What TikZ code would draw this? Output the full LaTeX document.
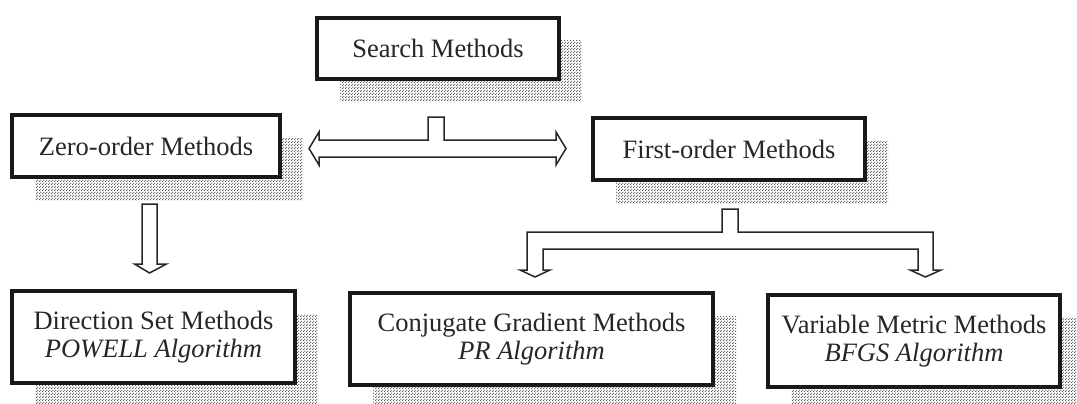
\documentclass[tikz,border=0pt]{standalone}
\usepackage{fontspec}
\setmainfont{Liberation Serif}
\usetikzlibrary{shadows,calc,patterns}
% fine checkerboard dot screen for the box shadows
\pgfdeclarepatternformonly{halftone}{\pgfqpoint{0pt}{0pt}}{\pgfqpoint{3pt}{3pt}}{\pgfqpoint{3pt}{3pt}}{%
  \pgfpathcircle{\pgfqpoint{0.75pt}{0.75pt}}{0.85pt}%
  \pgfpathcircle{\pgfqpoint{2.25pt}{2.25pt}}{0.85pt}%
  \pgfusepath{fill}}
\begin{document}
\begin{tikzpicture}[x=1pt,y=-1pt,
  box/.style={draw=black!90, line width=3.2pt, fill=white, inner sep=0pt, outer sep=0pt,
    align=center, text=black!85,
    font=\fontsize{26.5}{27.5}\selectfont,
    drop shadow={shadow xshift=23pt, shadow yshift=-23pt,
      pattern=halftone, pattern color=black!65, opacity=1}},
  blockarrow/.style={draw=black!85, line width=1.5pt, fill=white, line join=miter}
]
\useasboundingbox (0,0) rectangle (1077,404);

% method boxes
\node[box, minimum width=242pt, minimum height=61pt] (search) at (438,48.5) {Search Methods};
\node[box, minimum width=268pt, minimum height=62pt] (zero) at (146,146) {Zero-order Methods};
\node[box, minimum width=272pt, minimum height=62pt] (first) at (729,149) {First-order Methods};
\node[box, minimum width=283pt, minimum height=92pt] (dir) at (153.5,337)
  {Direction Set Methods\\\textit{POWELL Algorithm}};
\node[box, minimum width=363pt, minimum height=92pt] (conj) at (531.5,339)
  {Conjugate Gradient Methods\\\textit{PR Algorithm}};
\node[box, minimum width=292pt, minimum height=92pt] (var) at (914,341)
  {Variable Metric Methods\\\textit{BFGS Algorithm}};

% T-shaped double arrow from Search Methods to both orders
\coordinate (st) at ($(search.south)+(-2,38)$);
\draw[blockarrow]
  ($(st)+(-8,0)$) -- ($(st)+(8,0)$) -- ($(st)+(8,23)$) -- (556,140) -- (556,132)
  -- (566,148.5) -- (556,165) -- (556,157) -- (319,157) -- (319,165)
  -- (309,148.5) -- (319,132) -- (319,140) -- ($(st)+(-8,23)$) -- cycle;

% arrow from Zero-order to Direction Set
\coordinate (zt) at ($(zero.south)+(3.5,27)$);
\draw[blockarrow]
  ($(zt)+(-7.5,0)$) -- ($(zt)+(7.5,0)$) -- ($(zt)+(7.5,60)$) -- ($(zt)+(17,60)$)
  -- ($(zt)+(0,69)$) -- ($(zt)+(-15,60)$) -- ($(zt)+(-7.5,60)$) -- cycle;

% forked arrow from First-order to Conjugate Gradient and Variable Metric
\coordinate (ft) at ($(first.south)+(1,29)$);
\draw[blockarrow]
  ($(ft)+(-8,0)$) -- ($(ft)+(8,0)$) -- ($(ft)+(8,23)$) -- (933,232) -- (933,270)
  -- (941,270) -- (925.5,277) -- (910,270) -- (918,270) -- (918,249)
  -- (543,249) -- (543,270) -- (550,270) -- (535,277) -- (520,270)
  -- (527,270) -- (527,232) -- ($(ft)+(-8,23)$) -- cycle;
\end{tikzpicture}
\end{document}
